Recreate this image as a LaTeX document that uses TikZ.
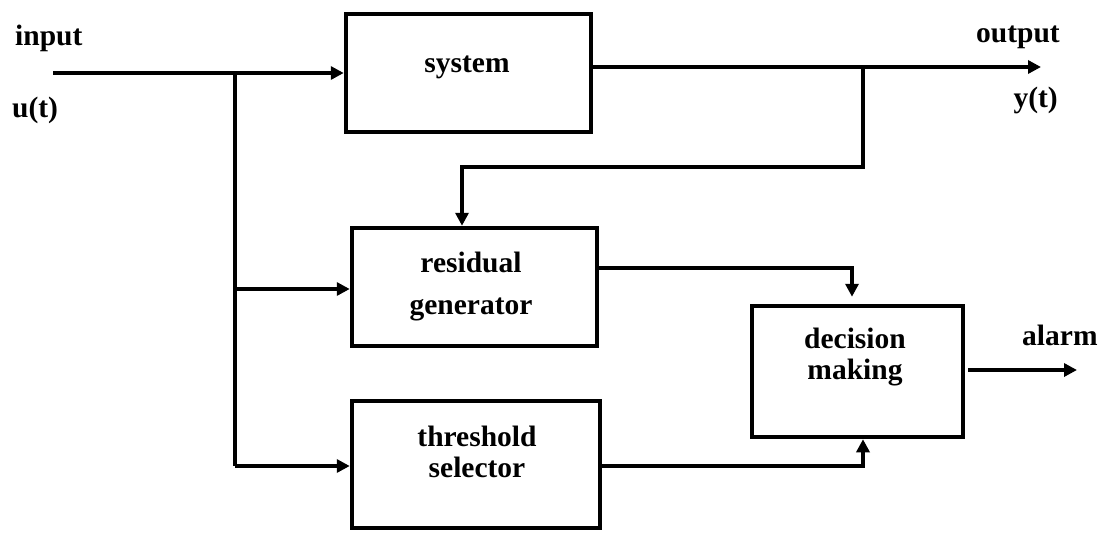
\documentclass[tikz,border=0pt]{standalone}
\usepackage{fontspec}
\setmainfont{Liberation Serif}
\usetikzlibrary{arrows.meta}

\begin{document}
\begin{tikzpicture}[x=1pt, y=-1pt,
  block/.style={draw, line width=4.5pt, rectangle, inner sep=0pt},
  wire/.style={line width=4.5pt},
  arr/.style={wire, -{Triangle[length=13pt, width=13pt]}},
  txt/.style={font=\fontsize{29.5}{31}\selectfont\bfseries, inner sep=0pt, align=center},
]
\fill[white] (0,0) rectangle (1103,533);
\useasboundingbox (0,0) rectangle (1103,533);

% blocks
\node[block, minimum width=245pt, minimum height=118pt] (system)    at (468.5,73)  {};
\node[block, minimum width=245pt, minimum height=118pt] (residual)  at (474.5,287) {};
\node[block, minimum width=248pt, minimum height=127pt] (threshold) at (476,464.5) {};
\node[block, minimum width=211pt, minimum height=131pt] (decision)  at (857.5,371.5) {};

% block captions
\node[txt, anchor=base] (systemtxt) at (467,72) {system};
\node[txt] (residualtxt)  at (471,287) {residual\\[11pt]generator};
\node[txt] (thresholdtxt) at (477,452) {threshold\\selector};
\node[txt] (decisiontxt)  at (855,357) {decision\\making};

% signal labels
\node[txt, anchor=base west] (inlbl)  at (15,45)   {input};
\node[txt, anchor=base west] (ulbl)   at (12,117)  {u(t)};
\node[txt, anchor=base east] (outlbl) at (1060,42) {output};
\node[txt, anchor=base east] (ylbl)   at (1058,107){y(t)};
\node[txt, anchor=base west] (alarmlbl) at (1022,345) {alarm};

% input u(t) and its branches
\coordinate (uin)   at (53,73);
\coordinate (ujoin) at (235,73);
\coordinate (umid)  at (235,289);
\coordinate (ubot)  at (235,466);
\draw[arr] (uin) -- (system.west |- uin);
\draw[wire] (ujoin) -- (ubot);
\draw[arr] (umid) -- (umid -| residual.west);
\draw[arr] (ubot) -- (ubot -| threshold.west);

% output y(t) and feedback to the residual generator
\coordinate (yout) at (1041,67);
\coordinate (ytap) at (863,67);
\coordinate (fb)   at (462,167);
\draw[arr] (system.east |- yout) -- (yout);
\draw[arr] (ytap) |- (fb) -- (fb |- residual.north);

% residual and threshold into the decision block
\coordinate (r2d) at (852,268);
\coordinate (t2d) at (863,466);
\draw[arr, shorten >=7pt] (residual.east |- r2d) -- (r2d) -- (r2d |- decision.north);
\draw[arr] (threshold.east |- t2d) -- (t2d) -- (t2d |- decision.south);

% alarm output
\coordinate (alarm) at (1077,370);
\draw[arr, shorten <=3pt] (decision.east |- alarm) -- (alarm);
\end{tikzpicture}
\end{document}
